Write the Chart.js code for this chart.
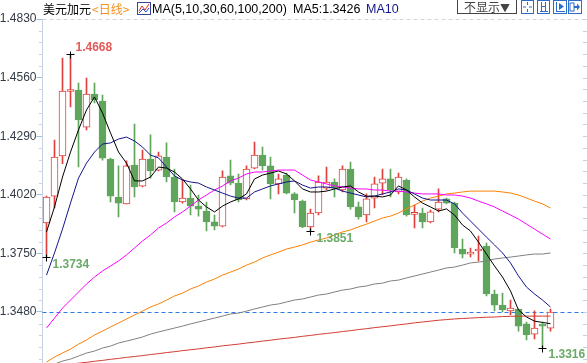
<!DOCTYPE html>
<html>
<head>
<meta charset="utf-8">
<title>美元加元 日线</title>
<script src="https://cdn.jsdelivr.net/npm/chart.js@4.4.1/dist/chart.umd.min.js"></script>
<style>
  html, body { margin: 0; padding: 0; background: #fff; }
  #wrap { position: relative; width: 587px; height: 363px; overflow: hidden; }
  #chart { position: absolute; left: 0; top: 0; }
  .hd { position: absolute; top: 0; height: 18px; line-height: 18px; white-space: nowrap;
        font-family: "Liberation Sans", Arial, sans-serif; font-size: 12.5px; color: #000; }
  .cjk { font-family: "Noto Sans CJK SC", sans-serif; font-size: 12px; }
  #hide { position: absolute; left: 457px; top: -1px; width: 58px; height: 13px; border: 1px solid #444;
          font-family: "Noto Sans CJK SC", sans-serif; font-size: 12px; line-height: 13px; color: #444;
          text-align: center; background: #fff; }
  .ic { position: absolute; top: 0; }
</style>
</head>
<body>
<div id="wrap">
  <canvas id="chart" width="587" height="363"></canvas>
  <span class="hd cjk" style="left:43px">美元加元</span>
  <span class="hd cjk" style="left:92px;color:#f39020">&lt;日线&gt;</span>
  <svg class="ic" style="left:137px;top:2px" width="14" height="13">
    <rect x="0.5" y="0.5" width="13" height="12" fill="#fff" stroke="#33449a"/>
    <polyline points="2,9 5,4 8,8 12,2" stroke="#d83030" fill="none"/>
    <polyline points="2,11 6,7 9,10 12,6" stroke="#2050c8" fill="none"/>
  </svg>
  <span class="hd" style="left:152px">MA(5,10,30,60,100,200)</span>
  <span class="hd" id="ma5txt" style="left:293px"></span>
  <span class="hd" style="left:366px;color:#14148c">MA10</span>
  <div id="hide">不显示<span style="font-size:10px">▼</span></div>
  <svg class="ic" style="left:521px" width="13" height="14">
    <rect x="0.5" y="0.5" width="12" height="13" fill="#fff" stroke="#2d6cc8"/>
    <rect x="6" y="2" width="1" height="3" fill="#2d6cc8"/><rect x="6" y="9" width="1" height="3" fill="#2d6cc8"/>
    <rect x="2" y="6.5" width="3" height="1" fill="#2d6cc8"/><rect x="8" y="6.5" width="3" height="1" fill="#2d6cc8"/>
  </svg>
  <svg class="ic" style="left:537px" width="13" height="14">
    <rect x="0.5" y="0.5" width="12" height="13" fill="#fff" stroke="#2d6cc8"/>
    <rect x="4" y="2" width="1" height="10" fill="#2d6cc8"/><rect x="8" y="2" width="1" height="10" fill="#2d6cc8"/>
    <rect x="3" y="11" width="8" height="1" fill="#2d6cc8"/><rect x="5" y="6" width="3" height="1" fill="#2d6cc8"/>
  </svg>
  <svg class="ic" style="left:553px" width="14" height="14">
    <rect x="0.5" y="0.5" width="13" height="13" fill="#fff" stroke="#2d6cc8"/>
    <rect x="3" y="2" width="1" height="10" fill="#2d6cc8"/><rect x="3" y="11" width="9" height="1" fill="#2d6cc8"/>
    <polygon points="6,3 11,6.5 6,10" fill="#2d6cc8"/>
  </svg>
  <svg class="ic" style="left:568px" width="14" height="14">
    <rect x="0.5" y="0.5" width="13" height="13" fill="#fff" stroke="#2d6cc8"/>
    <rect x="2" y="3" width="4" height="8" fill="none" stroke="#2d6cc8"/>
    <rect x="6" y="6" width="3" height="2" fill="#2d6cc8"/><polygon points="9,3.5 12,7 9,10.5" fill="#2d6cc8"/>
  </svg>
</div>
<script>
// daily candles (oldest first)
const opens = [1.3890,1.4014,1.4199,1.4496,1.4503,1.4332,1.4484,1.4452,1.4185,1.4010,
  1.3978,1.4157,1.4060,1.4185,1.4134,1.4194,1.4102,1.3987,1.4005,1.3968,
  1.3945,1.3895,1.3876,1.4107,1.4074,1.4001,1.4143,1.4203,1.4153,1.4070,
  1.4111,1.4024,1.3991,1.3872,1.3936,1.4051,1.4079,1.4042,1.4139,1.3964,
  1.3927,1.4005,1.4074,1.4093,1.4033,1.4088,1.3930,1.3936,1.3895,1.3954,
  1.4001,1.3982,1.3770,1.3747,1.3761,1.3784,1.3563,1.3512,1.3485,1.3494,
  1.3425,1.3378,1.3420,1.3406];
const highs = [1.4014,1.4272,1.4650,1.4668,1.4535,1.4558,1.4535,1.4480,1.4189,1.4153,
  1.4176,1.4346,1.4226,1.4296,1.4217,1.4259,1.4139,1.4088,1.4065,1.4019,
  1.3987,1.3927,1.4130,1.4180,1.4116,1.4153,1.4263,1.4240,1.4194,1.4116,
  1.4120,1.4030,1.3996,1.3954,1.4107,1.4148,1.4093,1.4153,1.4171,1.3987,
  1.4024,1.4102,1.4139,1.4139,1.4120,1.4093,1.3973,1.3959,1.3950,1.4047,
  1.4005,1.3987,1.3816,1.3775,1.3830,1.3798,1.3581,1.3567,1.3535,1.3494,
  1.3434,1.3485,1.3434,1.3494];
const lows = [1.3734,1.3959,1.4164,1.4425,1.4148,1.4319,1.4443,1.4180,1.3987,1.3918,
  1.3978,1.4010,1.4056,1.4097,1.4130,1.4079,1.3941,1.3982,1.3927,1.3922,
  1.3853,1.3858,1.3872,1.4065,1.3987,1.3996,1.4139,1.4134,1.4001,1.4024,
  1.4024,1.3936,1.3868,1.3851,1.3927,1.4042,1.4010,1.4033,1.3954,1.3908,
  1.3895,1.3959,1.4019,1.4010,1.4024,1.3922,1.3867,1.3867,1.3890,1.3941,
  1.3978,1.3752,1.3729,1.3734,1.3715,1.3554,1.3485,1.3480,1.3466,1.3392,
  1.3351,1.3356,1.3316,1.3392];
const closes = [1.4010,1.4194,1.4498,1.4502,1.4365,1.4484,1.4457,1.4189,1.4014,1.3982,
  1.4153,1.4056,1.4185,1.4130,1.4199,1.4102,1.3987,1.4005,1.3968,1.3954,
  1.3895,1.3876,1.4102,1.4074,1.3996,1.4139,1.4203,1.4153,1.4070,1.4093,
  1.4028,1.3996,1.3872,1.3936,1.4079,1.4079,1.4051,1.4139,1.3964,1.3918,
  1.4001,1.4070,1.4093,1.4042,1.4102,1.3927,1.3934,1.3895,1.3941,1.3987,
  1.3982,1.3775,1.3747,1.3756,1.3770,1.3563,1.3512,1.3489,1.3498,1.3415,
  1.3374,1.3406,1.3415,1.3480];

// moving averages as drawn on the picture
const ma5 = [1.3849,1.3964,1.4102,1.4217,1.4319,1.4411,1.4471,1.4397,1.4305,1.4217,
  1.4166,1.4084,1.4084,1.4102,1.4148,1.4143,1.4125,1.4093,1.4047,1.3996,
  1.3964,1.3941,1.3968,1.3987,1.4001,1.4024,1.4093,1.4111,1.4120,1.4130,
  1.4116,1.4084,1.4047,1.4033,1.4033,1.4037,1.4047,1.4056,1.4061,1.4033,
  1.4014,1.4014,1.4010,1.4019,1.4061,1.4042,1.4010,1.3982,1.3964,1.3945,
  1.3955,1.3927,1.3881,1.3853,1.3802,1.3747,1.3692,1.3641,1.3577,1.3489,
  1.3457,1.3438,1.3432,1.3426];
const ma10 = [1.3650,1.3752,1.3862,1.3982,1.4097,1.4166,1.4217,1.4254,1.4259,1.4277,
  1.4286,1.4268,1.4240,1.4203,1.4190,1.4148,1.4107,1.4088,1.4079,1.4074,
  1.4056,1.4042,1.4028,1.4014,1.4005,1.4005,1.4033,1.4047,1.4061,1.4070,
  1.4079,1.4084,1.4065,1.4051,1.4056,1.4056,1.4051,1.4037,1.4028,1.4019,
  1.4010,1.4014,1.4024,1.4033,1.4047,1.4042,1.4024,1.4005,1.3996,1.3996,
  1.3996,1.3978,1.3936,1.3899,1.3862,1.3825,1.3789,1.3752,1.3706,1.3646,
  1.3595,1.3563,1.3535,1.3503];
const ma30 = [1.3406,1.3452,1.3498,1.3535,1.3572,1.3609,1.3641,1.3669,1.3692,1.3715,
  1.3743,1.3775,1.3807,1.3835,1.3867,1.3890,1.3918,1.3941,1.3968,1.3996,
  1.4019,1.4042,1.4061,1.4084,1.4097,1.4116,1.4125,1.4125,1.4130,1.4134,
  1.4134,1.4134,1.4111,1.4088,1.4079,1.4070,1.4061,1.4056,1.4051,1.4047,
  1.4047,1.4042,1.4042,1.4037,1.4037,1.4033,1.4028,1.4024,1.4024,1.4024,
  1.4019,1.4019,1.4014,1.4005,1.3991,1.3978,1.3964,1.3945,1.3927,1.3908,
  1.3885,1.3862,1.3839,1.3816];
const ma60 = [1.3249,1.3273,1.3291,1.3309,1.3332,1.3351,1.3374,1.3392,1.3411,1.3429,
  1.3448,1.3466,1.3484,1.3503,1.3517,1.3535,1.3554,1.3567,1.3586,1.3600,
  1.3618,1.3632,1.3650,1.3664,1.3678,1.3696,1.3710,1.3729,1.3743,1.3756,
  1.3770,1.3779,1.3789,1.3802,1.3812,1.3821,1.3835,1.3849,1.3858,1.3872,
  1.3885,1.3899,1.3913,1.3922,1.3936,1.3955,1.3973,1.3991,1.4005,1.4014,
  1.4024,1.4028,1.4033,1.4037,1.4037,1.4037,1.4037,1.4033,1.4028,1.4019,
  1.4005,1.3991,1.3978,1.3959];
const ma100 = [1.3226,1.3240,1.3254,1.3263,1.3277,1.3291,1.3300,1.3314,1.3323,1.3337,
  1.3346,1.3355,1.3365,1.3378,1.3388,1.3397,1.3406,1.3415,1.3425,1.3434,
  1.3443,1.3452,1.3461,1.3471,1.3475,1.3484,1.3494,1.3503,1.3512,1.3517,
  1.3526,1.3535,1.3540,1.3549,1.3558,1.3563,1.3572,1.3581,1.3586,1.3595,
  1.3600,1.3609,1.3613,1.3623,1.3627,1.3637,1.3646,1.3655,1.3664,1.3673,
  1.3683,1.3687,1.3696,1.3706,1.3710,1.3715,1.3724,1.3729,1.3733,1.3738,
  1.3743,1.3747,1.3747,1.3752];
const ma200 = [1.3226,1.3231,1.3235,1.3240,1.3244,1.3248,1.3253,1.3257,1.3262,1.3266,
  1.3271,1.3275,1.3279,1.3284,1.3288,1.3293,1.3297,1.3302,1.3306,1.3310,
  1.3315,1.3319,1.3324,1.3328,1.3332,1.3337,1.3341,1.3346,1.3350,1.3355,
  1.3359,1.3363,1.3368,1.3372,1.3377,1.3381,1.3385,1.3390,1.3394,1.3399,
  1.3403,1.3408,1.3412,1.3416,1.3421,1.3425,1.3430,1.3434,1.3438,1.3442,
  1.3445,1.3448,1.3450,1.3452,1.3454,1.3456,1.3457,1.3459,1.3460,1.3461,
  1.3461,1.3461,1.3461,1.3461];

const yTicks = [1.3480, 1.3750, 1.4020, 1.4290, 1.4560, 1.4830];
const highMarks = [3];          // candles with a marked high
const lowMarks = [0, 33, 62];   // candles with a marked low
const emptySlots = 4;           // blank days at the right edge

const categories = opens.map((_, i) => 'D' + (i + 1)).concat(Array(emptySlots).fill(''));

const RED = '#e0403c', GREEN = '#5fa65c';
const isUp = closes.map((c, i) => c >= opens[i]);
const candleColor = isUp.map(u => u ? RED : GREEN);
const bodyFill = isUp.map(u => u ? '#ffffff' : GREEN);
const bodies = opens.map((o, i) => [o, closes[i]]);
const wicks = lows.map((l, i) => [l, highs[i]]);

document.getElementById('ma5txt').textContent = 'MA5:' + ma5[ma5.length - 1].toFixed(4);

function maLine(label, data, color) {
  return { type: 'line', label, data, borderColor: color, borderWidth: 1,
           pointRadius: 0, tension: 0, fill: false, order: 0 };
}

// dashed lines, minor ticks, high/low marks
const decor = {
  id: 'decor',
  beforeDatasetsDraw(chart) {
    const { ctx, chartArea: a, scales: { y } } = chart;
    ctx.save();
    ctx.lineWidth = 1;
    ctx.setLineDash([4, 3]);
    ctx.strokeStyle = '#d6d6d6';
    let py = Math.round(y.getPixelForValue(y.max)) + 0.5;
    ctx.beginPath(); ctx.moveTo(a.left, py); ctx.lineTo(587, py); ctx.stroke();
    ctx.strokeStyle = '#2a7be6';
    py = Math.round(y.getPixelForValue(closes[closes.length - 1])) + 0.5;
    ctx.beginPath(); ctx.moveTo(a.left, py); ctx.lineTo(587, py); ctx.stroke();
    ctx.restore();
  },
  afterDatasetsDraw(chart) {
    const { ctx, scales: { x, y } } = chart;
    ctx.save();
    const cross = (px, py) => {
      px = Math.round(px - 0.5) + 0.5; py = Math.round(py) + 0.5;
      ctx.strokeStyle = '#000'; ctx.lineWidth = 1;
      ctx.beginPath();
      ctx.moveTo(px - 4, py); ctx.lineTo(px + 4, py);
      ctx.moveTo(px, py - 3); ctx.lineTo(px, py + 4);
      ctx.stroke();
    };
    ctx.font = "bold 12px 'Liberation Sans', Arial, sans-serif";
    ctx.textBaseline = 'middle';
    ctx.textAlign = 'left';
    highMarks.forEach(i => {
      const px = x.getPixelForValue(i), py = y.getPixelForValue(highs[i]);
      cross(px, py);
      ctx.fillStyle = '#e25a58';
      ctx.fillText(highs[i].toFixed(4), px + 5, py - 6.5);
    });
    lowMarks.forEach(i => {
      const px = x.getPixelForValue(i), py = y.getPixelForValue(lows[i]);
      cross(px, py);
      ctx.fillStyle = '#6aaa68';
      ctx.fillText(lows[i].toFixed(4), px + 6, py + 7.5);
    });
    ctx.restore();
  },
  afterDraw(chart) {
    const { ctx, chartArea: a, scales: { y } } = chart;
    const step = (yTicks[1] - yTicks[0]) / 5;
    ctx.save();
    ctx.fillStyle = '#c6d2e0';
    for (let k = -20; k <= 40; k++) {
      const v = yTicks[0] + k * step;
      if (v < y.min || v > y.max + 1e-9) continue;
      const py = Math.round(y.getPixelForValue(v));
      if (k % 5 !== 0) ctx.fillRect(Math.floor(a.left) - 3, py, 3, 1);
      ctx.fillRect(583, py, 4, 1);
    }
    ctx.restore();
  }
};

new Chart(document.getElementById('chart'), {
  data: {
    labels: categories,
    datasets: [
      maLine('MA5', ma5, '#000000'),
      maLine('MA10', ma10, '#14148c'),
      maLine('MA30', ma30, '#ff00ff'),
      maLine('MA60', ma60, '#ff8000'),
      maLine('MA100', ma100, '#808080'),
      maLine('MA200', ma200, '#d63a32'),
      { type: 'bar', label: 'body', data: bodies, backgroundColor: bodyFill, borderColor: candleColor,
        borderWidth: 1, borderSkipped: false, barThickness: 7, minBarLength: 2, grouped: false, order: 1 },
      { type: 'bar', label: 'wick', data: wicks, backgroundColor: candleColor, borderWidth: 0,
        barThickness: 1, grouped: false, order: 2 }
    ]
  },
  options: {
    responsive: false,
    animation: false,
    devicePixelRatio: 1,
    layout: { padding: { top: 19, right: 0.5, bottom: 0, left: 0 } },
    plugins: { legend: { display: false }, tooltip: { enabled: false } },
    scales: {
      x: { type: 'category', display: false, offset: true, grid: { display: false } },
      y: {
        position: 'left',
        min: 1.3245,
        max: 1.4830,
        afterBuildTicks: s => { s.ticks = yTicks.map(v => ({ value: v })); },
        afterFit: s => { s.width = 42.5; s.paddingTop = 0; s.paddingBottom = 0; },
        ticks: {
          callback: v => Number(v).toFixed(4),
          color: '#333a44',
          padding: 0,
          font: { family: "'Liberation Sans', Arial, sans-serif", size: 12 }
        },
        grid: { drawOnChartArea: false, drawTicks: true, tickLength: 6, color: '#9dbfe3' },
        border: { color: '#c6d2e0' }
      }
    }
  },
  plugins: [decor]
});
</script>
</body>
</html>
